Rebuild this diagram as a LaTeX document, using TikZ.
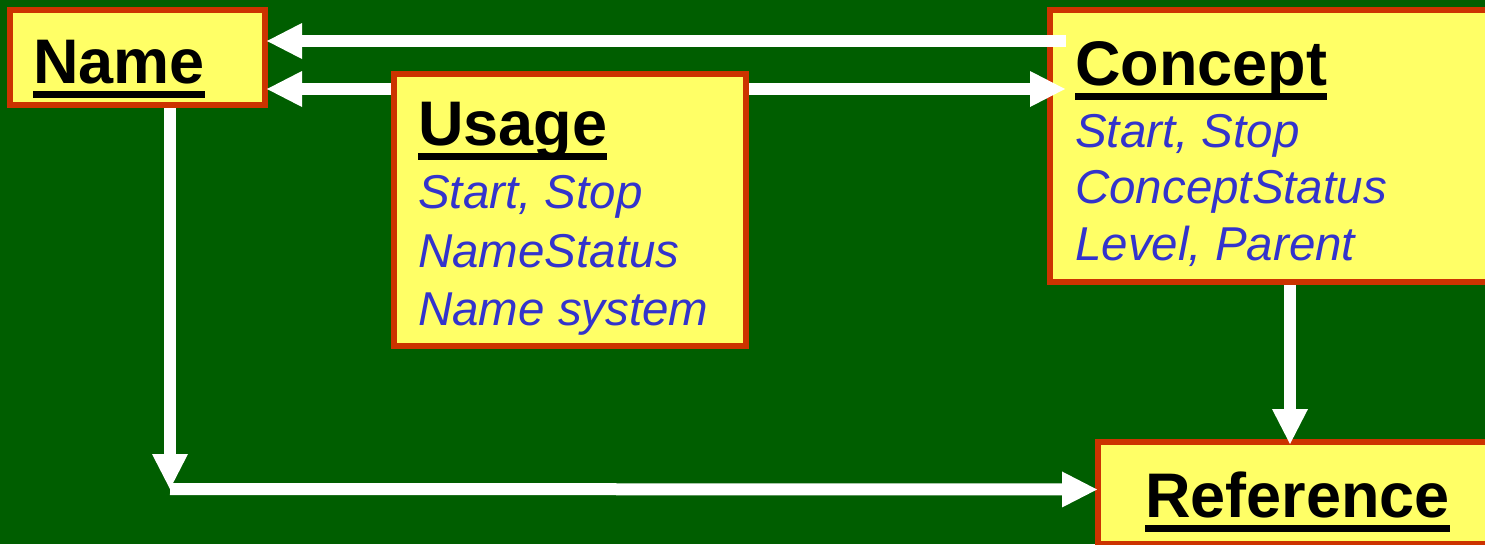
\documentclass[tikz,border=0pt]{standalone}
\usepackage{fontspec}
\setmainfont{Liberation Sans}
\usetikzlibrary{arrows.meta,calc}
\definecolor{bggreen}{RGB}{0,94,0}
\definecolor{boxred}{RGB}{204,51,0}
\definecolor{boxyellow}{RGB}{255,255,102}
\definecolor{txtblue}{RGB}{51,51,204}
\newcommand\ulx[1]{\setbox0\hbox{#1}\rlap{\rule[-15pt]{\wd0}{7pt}}\box0}
\tikzset{
  x=1pt, y=-1pt,
  ebox/.style={draw=boxred, fill=boxyellow, line width=6pt, rectangle, inner sep=0pt, outer sep=0pt, anchor=north west},
  ttl/.style={anchor=base west, inner sep=0pt, text=black, font=\fontsize{63}{63}\selectfont\bfseries},
  attr/.style={anchor=base west, inner sep=0pt, text=txtblue, font=\fontsize{47.5}{47.5}\selectfont\itshape},
  arr/.style={draw=white, line width=12pt, -{Triangle[length=35pt,width=36pt,line width=0pt]}},
}
\begin{document}
\begin{tikzpicture}
\useasboundingbox (0,0) rectangle (1485,544);
\clip (0,0) rectangle (1485,544);
\fill[bggreen] (0,0) rectangle (1485,544);

% boxes
\node[ebox, minimum width=255pt, minimum height=95pt] (name) at (10,10) {};
\node[ebox, minimum width=352pt, minimum height=272pt] (usage) at (394,74) {};
\node[ebox, minimum width=460pt, minimum height=272pt] (concept) at (1050,10) {};
\node[ebox, minimum width=410pt, minimum height=102pt] (reference) at (1098,442) {};

% texts
\node[ttl] (nameT) at (33,83) {\ulx{Name}};
\node[ttl] (usageT) at (418,145) {\ulx{Usage}};
\node[attr] (u1) at (418,208) {Start, Stop};
\node[attr] (u2) at (418,267) {NameStatus};
\node[attr] (u3) at (418,325) {Name system};
\node[ttl] (conceptT) at (1075,85) {\ulx{Concept}};
\node[attr] (c1) at (1075,147) {Start, Stop};
\node[attr] (c2) at (1075,203) {ConceptStatus};
\node[attr] (c3) at (1075,260) {Level, Parent};
\node[ttl] (referenceT) at (1145,517) {\ulx{Reference}};

% connectors
\coordinate (corner) at (170,489);
\draw[arr] ([xshift=16pt,yshift=-31pt]concept.north west) -- ([xshift=2pt,yshift=-31pt]name.north east);
\draw[arr] ([xshift=-3pt,yshift=-15pt]usage.north west) -- ([xshift=2pt,yshift=-79pt]name.north east);
\draw[arr] ([xshift=3pt,yshift=-15pt]usage.north east) -- ([xshift=15pt,yshift=-79pt]concept.north west);
\draw[arr] ([xshift=160pt,yshift=-3pt]name.south west) -- (corner);
\draw[arr] (corner) -- ([xshift=-1pt,yshift=-47.5pt]reference.north west);
\draw[arr] ([xshift=240pt,yshift=-3pt]concept.south west) -- ([xshift=192pt,yshift=-2pt]reference.north west);
\end{tikzpicture}
\end{document}
